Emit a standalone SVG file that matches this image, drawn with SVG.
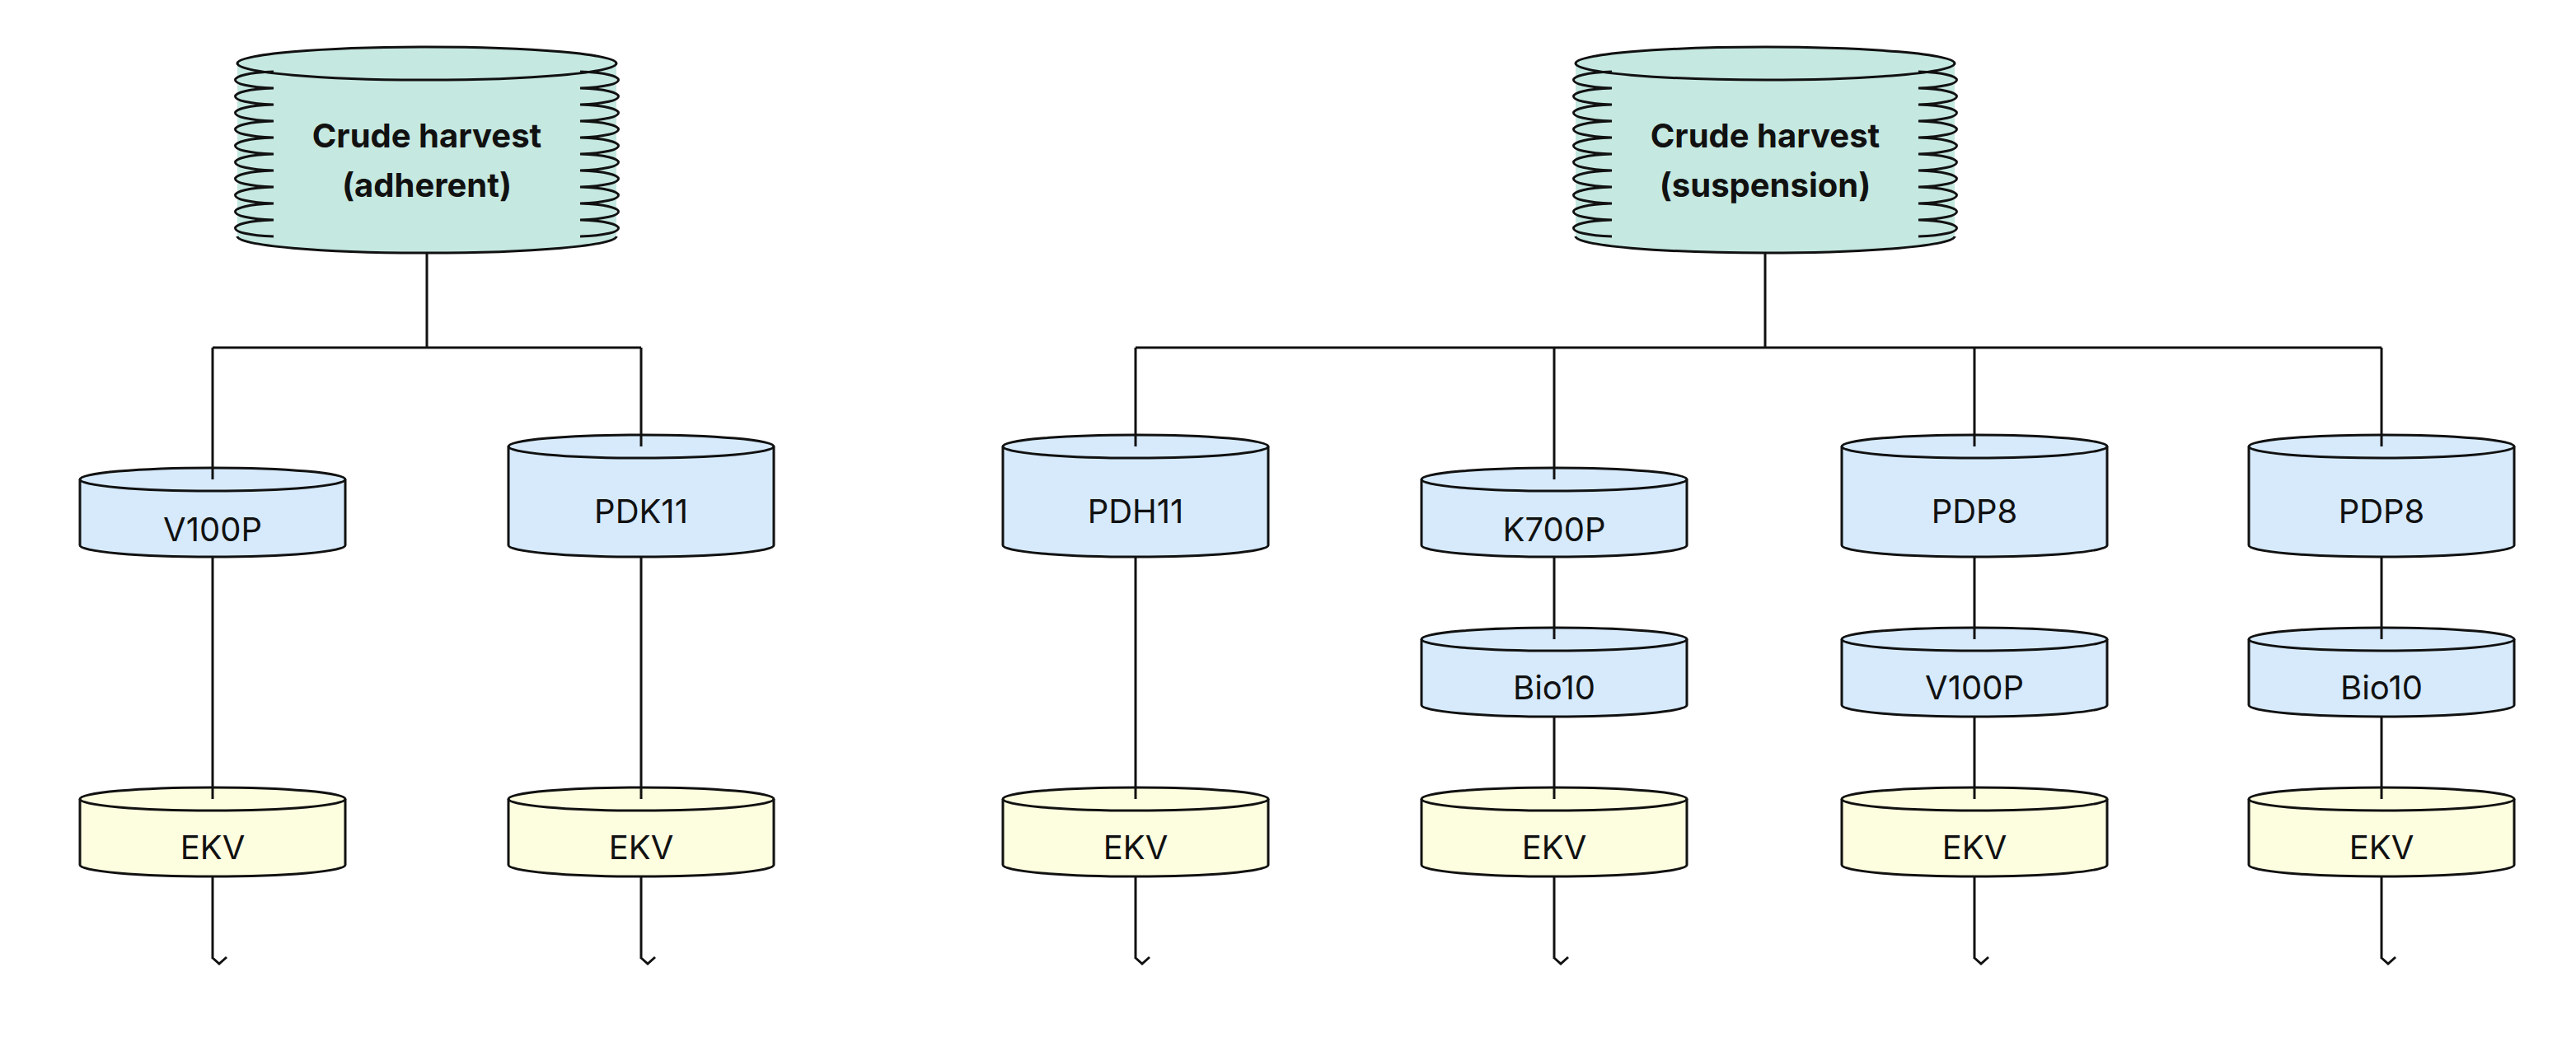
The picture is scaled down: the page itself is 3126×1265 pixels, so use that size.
<svg xmlns="http://www.w3.org/2000/svg" width="3126" height="1265" viewBox="0 0 3126 1265">
<style>
.s{stroke:#111;stroke-width:3;}
.b{fill:#d6eafc;}.y{fill:#fdfddf;}.g{fill:#c5e8e0;}
.r{fill:none;}
.t{font-family:Inter,"Noto Sans",sans-serif;font-size:40px;fill:#111;text-anchor:middle;dominant-baseline:central;}
.tb{font-weight:bold;}
.c{stroke:#111;stroke-width:3;fill:none;}
</style>
<defs>
<marker id="a" viewBox="0 0 20 20" refX="10" refY="18" markerWidth="20" markerHeight="20" markerUnits="userSpaceOnUse" orient="auto-start-reverse">
<path d="M1,10 L10,18 L19,10" transform="rotate(-90 10 10)" fill="none" stroke="#111" stroke-width="3"/>
</marker>
<path id="lobesL" d="M332,87 C270,89 270,105 332,107 C270,109 270,125 332,127 C270,129 270,145 332,147 C270,149 270,165 332,167 C270,169 270,185 332,187 C270,189 270,205 332,207 C270,209 270,225 332,227 C270,229 270,245 332,247 C270,249 270,265 332,267 C270,269 270,285 332,287" fill="none"/>
</defs>
<g id="harvest-adherent">
<path class="g" d="M288,77 A230,20 0 0 1 748,77 V287 A230,20 0 0 1 288,287 Z"/>
<path class="g s" d="M288,77 A230,20 0 0 1 748,77 A230,20 0 0 1 288,77 Z"/>
<use href="#lobesL" class="s" fill="none"/>
<use href="#lobesL" class="s" fill="none" transform="translate(1036,0) scale(-1,1)"/>
<path class="s r" d="M288,287 A230,20 0 0 0 748,287"/>
<text class="t tb" x="518" y="164">Crude harvest</text>
<text class="t tb" x="518" y="224">(adherent)</text>
</g>
<g id="harvest-suspension" transform="translate(1624,0)">
<path class="g" d="M288,77 A230,20 0 0 1 748,77 V287 A230,20 0 0 1 288,287 Z"/>
<path class="g s" d="M288,77 A230,20 0 0 1 748,77 A230,20 0 0 1 288,77 Z"/>
<use href="#lobesL" class="s" fill="none"/>
<use href="#lobesL" class="s" fill="none" transform="translate(1036,0) scale(-1,1)"/>
<path class="s r" d="M288,287 A230,20 0 0 0 748,287"/>
<text class="t tb" x="518" y="164">Crude harvest</text>
<text class="t tb" x="518" y="224">(suspension)</text>
</g>
<defs>
<g id="cylS"><path d="M-161,14 A161,14 0 0 1 161,14 V94 A161,14 0 0 1 -161,94 Z"/><path class="r" d="M-161,14 A161,14 0 0 0 161,14"/></g>
<g id="cylT"><path d="M-161,14 A161,14 0 0 1 161,14 V134 A161,14 0 0 1 -161,134 Z"/><path class="r" d="M-161,14 A161,14 0 0 0 161,14"/></g>
</defs>
<g id="v100p-a"><use href="#cylS" class="b s" x="258" y="568"/><text class="t" x="258" y="642">V100P</text></g>
<g id="pdk11"><use href="#cylT" class="b s" x="778" y="528"/><text class="t" x="778" y="620">PDK11</text></g>
<g id="pdh11"><use href="#cylT" class="b s" x="1378" y="528"/><text class="t" x="1378" y="620">PDH11</text></g>
<g id="k700p"><use href="#cylS" class="b s" x="1886" y="568"/><text class="t" x="1886" y="642">K700P</text></g>
<g id="pdp8-a"><use href="#cylT" class="b s" x="2396" y="528"/><text class="t" x="2396" y="620">PDP8</text></g>
<g id="pdp8-b"><use href="#cylT" class="b s" x="2890" y="528"/><text class="t" x="2890" y="620">PDP8</text></g>
<g id="bio10-a"><use href="#cylS" class="b s" x="1886" y="762"/><text class="t" x="1886" y="834">Bio10</text></g>
<g id="v100p-b"><use href="#cylS" class="b s" x="2396" y="762"/><text class="t" x="2396" y="834">V100P</text></g>
<g id="bio10-b"><use href="#cylS" class="b s" x="2890" y="762"/><text class="t" x="2890" y="834">Bio10</text></g>
<g id="ekv1"><use href="#cylS" class="y s" x="258" y="956"/><text class="t" x="258" y="1028">EKV</text></g>
<g id="ekv2"><use href="#cylS" class="y s" x="778" y="956"/><text class="t" x="778" y="1028">EKV</text></g>
<g id="ekv3"><use href="#cylS" class="y s" x="1378" y="956"/><text class="t" x="1378" y="1028">EKV</text></g>
<g id="ekv4"><use href="#cylS" class="y s" x="1886" y="956"/><text class="t" x="1886" y="1028">EKV</text></g>
<g id="ekv5"><use href="#cylS" class="y s" x="2396" y="956"/><text class="t" x="2396" y="1028">EKV</text></g>
<g id="ekv6"><use href="#cylS" class="y s" x="2890" y="956"/><text class="t" x="2890" y="1028">EKV</text></g>
<g id="connectors" class="c">
<path d="M518,307 V422 M258,422 H778 M258,422 V582 M778,422 V542"/>
<path d="M2142,307 V422 M1378,422 H2890 M1378,422 V542 M1886,422 V582 M2396,422 V542 M2890,422 V542"/>
<path d="M258,676 V970 M778,676 V970 M1378,676 V970"/>
<path d="M1886,676 V776 M1886,870 V970 M2396,676 V776 M2396,870 V970 M2890,676 V776 M2890,870 V970"/>
<path d="M258,1064 V1162" marker-end="url(#a)"/>
<path d="M778,1064 V1162" marker-end="url(#a)"/>
<path d="M1378,1064 V1162" marker-end="url(#a)"/>
<path d="M1886,1064 V1162" marker-end="url(#a)"/>
<path d="M2396,1064 V1162" marker-end="url(#a)"/>
<path d="M2890,1064 V1162" marker-end="url(#a)"/>
</g>
</svg>
